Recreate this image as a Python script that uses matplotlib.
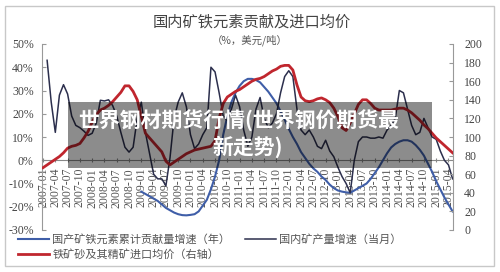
import matplotlib
matplotlib.use("Agg")
import matplotlib.pyplot as plt
import numpy as np
from matplotlib.patches import Rectangle
from matplotlib.lines import Line2D

CJK = ['Noto Sans CJK SC', 'DejaVu Sans']
SERIF = ['Liberation Serif', 'Noto Sans CJK SC']
plt.rcParams['font.family'] = CJK

# ---- data (monthly, 2007-01 .. 2015-05) ----
start_year = 2007

# domestic ore output growth, monthly (%), starts 2007-02
dark_start = 1
dark_vals = [43, 25, 12, 28, 32.5, 28.5, 19, 15, 14, 12.5, 10.7, 11.6, 16, 25.8, 25.5, 26,
             23.5, 19, 12, 5.6, 3.5, 5.6, 18, 25, 12, 3, -6, -8, -8, -11, 1, 18, 25, 29, 23,
             11, 5, 7, 11, 14, 40, 38, 29, 19, 17, 22, 28, 23, 13, 6, 10, 22, 27, 18, 14, 16,
             20, 29, 36, 38.5, 36, 22, 13, 11, 13, 10, 6, 5, 8.6, 4, 1.5, -3, -7, -10, -14, 0,
             8, 10, 10, 9.5, 9.5, 10, 9.5, 13, 15, 18, 30, 29, 22, 15, 11, 12, 18, 14, 10, 9,
             4, 0, -2, -8]

# cumulative contribution growth of domestic ore iron (%), starts 2009-01
blue_start = 24
blue_vals = [-13.5, -14.5, -15.5, -16.5, -17.5, -19, -20.5, -21.5, -22.5, -23.2, -23.6, -23.7,
             -23.5, -23.2, -22, -19.5, -17, -12.5, -7, 0, 11, 19, 25, 29, 32, 34, 35, 35, 34.5,
             33.5, 31.5, 29.5, 27, 24.5, 21, 17.5, 13.5, 10, 7, 3.5, 1, -1.5, -3.5, -5, -7,
             -8.5, -10.5, -12, -13, -13.5, -13.8, -14, -13, -12, -11, -10, -8, -5.5, -3, 0, 3,
             5.5, 7, 8, 8.6, 8.6, 8, 6.5, 4.5, 2, -1.5, -5, -9, -12.5, -16, -19, -22]

# average import price of iron ore (USD/t, right axis), starts 2007-01
red_start = 0
red_vals = [67, 70, 73, 76, 79, 83, 88, 90, 91, 93, 99, 106, 116, 124, 129, 131, 134, 138, 143,
            148, 155, 155, 149, 140, 122, 104, 99, 94, 89, 84, 74, 70, 73, 76, 79, 82, 84, 86,
            87, 88, 89, 90, 96, 120, 136, 143, 146, 149, 151, 154, 157, 160, 162, 163, 165, 168,
            171, 173, 176, 177, 177, 172, 156, 143, 139, 138, 139, 141, 142, 140, 137, 131, 122,
            110, 107, 115, 125, 135, 140, 140, 136, 131, 129, 129, 129, 129, 130, 131, 131, 129,
            126, 122, 118, 113, 109, 104, 99, 95, 91, 87, 83]

tick_labels = [f"{start_year + q // 4}-{(q % 4) * 3 + 1:02d}" for q in range(34)]

title = "国内矿铁元素贡献及进口均价"
subtitle = "（%，美元/吨）"
name_blue = "国产矿铁元素累计贡献量增速（年）"
name_dark = "国内矿产量增速（当月）"
name_red = "铁矿砂及其精矿进口均价（右轴）"
overlay_1 = "世界钢材期货行情(世界钢价期货最"
overlay_2 = "新走势)"

# ---- figure ----
W, H = 500, 272
fig = plt.figure(figsize=(W / 100, H / 100), dpi=100)
fig.patch.set_facecolor('white')
fig.add_artist(Rectangle((5 / W, 6 / H), 489 / W, 260 / H, transform=fig.transFigure,
                         fill=False, edgecolor='#c8c8c8', linewidth=1.0))

ax = fig.add_axes([42 / W, 1 - 230 / H, 411 / W, 186 / H])
ax2 = ax.twinx()

c_dark = '#2c2f4d'
c_blue = '#3f5ea8'
c_red = '#c0262e'

x_dark = np.arange(dark_start, dark_start + len(dark_vals))
x_blue = np.arange(blue_start, blue_start + len(blue_vals))
x_red = np.arange(red_start, red_start + len(red_vals))

ax.plot(x_blue, blue_vals, color=c_blue, lw=1.5, solid_joinstyle='round', zorder=3)
ax.plot(x_dark, dark_vals, color=c_dark, lw=1.1, solid_joinstyle='round', zorder=4)
ax2.plot(x_red, red_vals, color=c_red, lw=2.0, solid_joinstyle='round', zorder=3)

ax.set_xlim(-0.25, 100.1)
ax.set_ylim(-30, 50)
ax2.set_ylim(0, 200)

ax.set_yticks(np.arange(-30, 51, 10))
ax.set_yticklabels([f"{v}%" for v in range(-30, 51, 10)])
ax2.set_yticks(np.arange(0, 201, 20))
ax2.set_yticklabels([str(v) for v in range(0, 201, 20)])

ax.set_xticks(np.arange(0, 34 * 3, 3))
ax.set_xticklabels(tick_labels)

for a in (ax, ax2):
    a.spines['top'].set_visible(False)
    a.patch.set_visible(False)
ax.spines['bottom'].set_position(('data', 0))
ax.spines['bottom'].set_color('#888888')
ax.spines['bottom'].set_linewidth(0.8)
ax.spines['left'].set_color('#999999')
ax.spines['right'].set_visible(False)
ax2.spines['left'].set_visible(False)
ax2.spines['bottom'].set_visible(False)
ax2.spines['right'].set_color('#999999')
ax.tick_params(axis='y', direction='in', length=3, color='#999999', pad=6,
               labelsize=8.5, labelcolor='#444444')
ax2.tick_params(axis='y', direction='in', length=3, color='#999999', pad=8,
                labelsize=8.5, labelcolor='#444444')
ax.tick_params(axis='x', direction='inout', length=3, color='#888888', pad=4,
               labelrotation=90, labelsize=8.5, labelcolor='#555555')
for lab in ax.get_yticklabels() + ax2.get_yticklabels() + ax.get_xticklabels():
    lab.set_fontfamily(SERIF)

# titles
fig.text(252 / W, 1 - 22 / H, title, ha='center', va='center', fontsize=11,
         color='#444444', family=CJK)
fig.text(250 / W, 1 - 40 / H, subtitle, ha='center', va='center', fontsize=7.5,
         color='#555555', family=CJK)

# legend
handles = [Line2D([], [], color=c_blue, lw=1.5), Line2D([], [], color=c_red, lw=2.0),
           Line2D([], [], color=c_dark, lw=1.1)]
labels = [name_blue, name_red, name_dark]
leg = fig.legend(handles, labels, loc='lower left', bbox_to_anchor=(8 / W, 2 / H), ncol=2,
                 frameon=False, fontsize=8, handlelength=2.8, handletextpad=0.3,
                 columnspacing=1.3, labelspacing=0.35, labelcolor='#555555')

# overlay box
fig.add_artist(Rectangle((68 / W, 1 - 168 / H), 364 / W, 66 / H, transform=fig.transFigure,
                         facecolor='black', alpha=0.45, edgecolor='none', zorder=10))
fig.text(239 / W, 1 - 121 / H, overlay_1, ha='center', va='center', fontsize=15,
         fontweight='bold', color='white', family=CJK, zorder=11)
fig.text(248 / W, 1 - 147 / H, overlay_2, ha='center', va='center', fontsize=15,
         fontweight='bold', color='white', family=CJK, zorder=11)

fig.savefig('out.png', dpi=100)
